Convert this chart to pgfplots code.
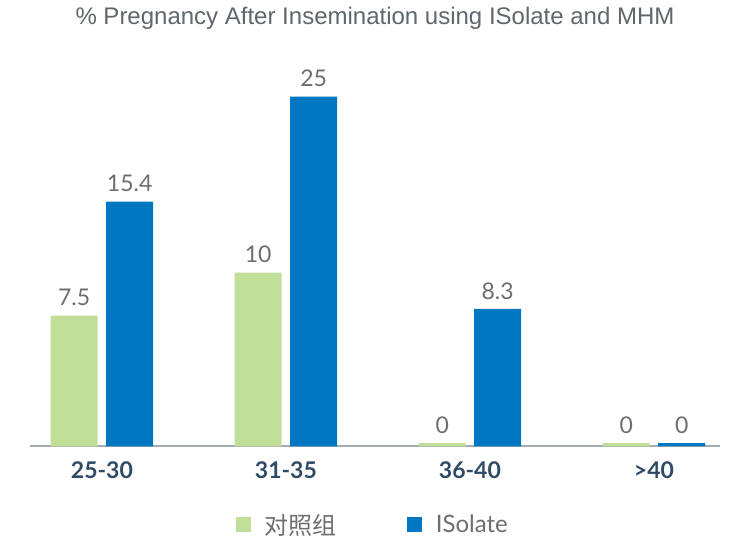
\documentclass[border=0pt]{standalone}
\usepackage{pgfplots}
\pgfplotsset{compat=1.18}
\usepackage{pgfplotstable}
\usepackage{fontspec}
\setmainfont{Lato}
\newfontfamily\titlefont{Liberation Sans}
\newfontfamily\cjk{Noto Sans CJK SC}
\definecolor{cgreen}{HTML}{C2DF9A}
\definecolor{cblue}{HTML}{0077C0}
\definecolor{labgray}{HTML}{6D6E71}
\definecolor{tickc}{HTML}{2F4B66}
\definecolor{linegray}{HTML}{A3ABB3}
\definecolor{titlegray}{HTML}{5F666C}

% v = bar height as drawn in the reference, lab = printed value
\pgfplotstableread{
x v lab
0 9.37 7.5
1 12.45 10
2 0.25 0
3 0.25 0
}\ctrl
\pgfplotstableread{
x v lab
0 17.53 15.4
1 25.05 25
2 9.85 8.3
3 0.25 0
}\iso

\begin{document}
\begin{tikzpicture}
\useasboundingbox (0,0) rectangle (737pt,540pt);
\begin{axis}[
  at={(30pt,93.5pt)}, anchor=south west,
  scale only axis, width=690pt, height=377pt,
  xmin=-0.391, xmax=3.359, ymin=0, ymax=27,
  axis x line=bottom, axis y line=none,
  x axis line style={linegray, line width=2pt, -},
  xtick={0,1,2,3}, xticklabels={25-30,31-35,36-40,>40},
  major tick length=0pt,
  xticklabel style={font=\fontsize{23}{26}\selectfont\bfseries, text=tickc, anchor=center, yshift=-24pt},
  ybar, bar width=47pt,
  title={\titlefont\% Pregnancy After Insemination using ISolate and MHM},
  title style={font=\fontsize{24}{28}\selectfont, text=titlegray, at={(0.5,1)}, anchor=center, yshift=45pt},
  nodes near coords,
  point meta=explicit symbolic,
  nodes near coords style={font=\fontsize{23}{26}\selectfont, text=labgray, anchor=center, yshift=18pt},
  legend columns=2,
  legend style={draw=none, fill=none, at={(0.497,-0.208)}, anchor=center,
    font=\fontsize{24}{28}\selectfont, text=labgray,
    /tikz/every odd column/.append style={column sep=12pt},
    /tikz/every even column/.append style={column sep=68pt}},
]
\addplot[fill=cgreen, draw=none, bar shift=-27.75pt,
  legend image code/.code={\fill[cgreen] (0pt,-7.5pt) rectangle (15pt,7.5pt);}]
  table[x=x, y=v, meta=lab]{\ctrl};
\addlegendentry{\cjk 对照组}
\addplot[fill=cblue, draw=none, bar shift=27.75pt,
  legend image code/.code={\fill[cblue] (0pt,-7.5pt) rectangle (15pt,7.5pt);}]
  table[x=x, y=v, meta=lab]{\iso};
\addlegendentry{ISolate}
\end{axis}
\end{tikzpicture}
\end{document}
